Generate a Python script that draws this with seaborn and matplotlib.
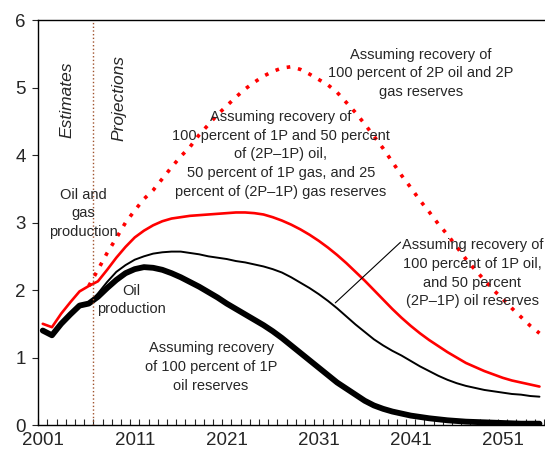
import numpy as np
import pandas as pd
import matplotlib.pyplot as plt
import seaborn as sns

sns.set_style("ticks")
plt.rcParams['font.family'] = ['Liberation Sans', 'DejaVu Sans']

years = list(range(2001, 2056))

# 100 percent of 1P oil reserves (thick black)
oil_1p = [1.40, 1.33, 1.50, 1.64, 1.77, 1.80, 1.90, 2.03, 2.15, 2.25,
          2.31, 2.34, 2.33, 2.30, 2.25, 2.19, 2.12, 2.05, 1.97, 1.89,
          1.80, 1.72, 1.64, 1.56, 1.48, 1.39, 1.29, 1.18, 1.07, 0.96,
          0.85, 0.74, 0.63, 0.54, 0.45, 0.36, 0.29, 0.24, 0.20, 0.17,
          0.14, 0.12, 0.10, 0.085, 0.07, 0.06, 0.05, 0.045, 0.04, 0.035,
          0.03, 0.025, 0.02, 0.02, 0.02]

# 100 percent of 1P oil and 50 percent (2P-1P) oil (thin black)
oil_mid = [1.40, 1.33, 1.50, 1.64, 1.77, 1.80, 1.95, 2.12, 2.27, 2.37,
           2.45, 2.50, 2.54, 2.56, 2.57, 2.57, 2.55, 2.53, 2.50, 2.48,
           2.46, 2.43, 2.41, 2.38, 2.35, 2.31, 2.26, 2.19, 2.11, 2.03,
           1.94, 1.84, 1.73, 1.61, 1.49, 1.38, 1.27, 1.18, 1.10, 1.03,
           0.95, 0.87, 0.80, 0.73, 0.67, 0.62, 0.58, 0.55, 0.52, 0.50,
           0.48, 0.46, 0.45, 0.43, 0.42]

# oil and gas, mixed recovery (red solid)
og_mid = [1.50, 1.45, 1.65, 1.82, 1.98, 2.06, 2.13, 2.30, 2.48, 2.64,
          2.78, 2.88, 2.96, 3.02, 3.06, 3.08, 3.10, 3.11, 3.12, 3.13,
          3.14, 3.15, 3.15, 3.14, 3.12, 3.08, 3.03, 2.97, 2.90, 2.82,
          2.73, 2.63, 2.52, 2.40, 2.27, 2.14, 2.00, 1.86, 1.72, 1.59,
          1.47, 1.36, 1.26, 1.17, 1.08, 1.00, 0.92, 0.86, 0.80, 0.75,
          0.70, 0.66, 0.63, 0.60, 0.57]

# 100 percent of 2P oil and 2P gas (red dotted)
og_2p_years = list(range(2006, 2056))
og_2p = [2.06, 2.30, 2.55, 2.77, 3.00, 3.18, 3.35, 3.48, 3.65, 3.82,
         3.98, 4.12, 4.30, 4.45, 4.60, 4.73, 4.86, 4.98, 5.08, 5.17,
         5.24, 5.29, 5.31, 5.27, 5.20, 5.12, 5.04, 4.93, 4.78, 4.63,
         4.46, 4.28, 4.10, 3.90, 3.70, 3.52, 3.33, 3.16, 2.98, 2.82,
         2.64, 2.46, 2.30, 2.15, 2.00, 1.87, 1.73, 1.60, 1.47, 1.36]

x_labels = [2001, 2011, 2021, 2031, 2041, 2051]

fig = plt.figure(figsize=(5.45, 4.58), dpi=100)
ax = fig.add_axes([0.07, 0.072, 0.93, 0.884])

df = pd.DataFrame({"year": years, "oil_1p": oil_1p, "oil_mid": oil_mid, "og_mid": og_mid})
df4 = pd.DataFrame({"year": og_2p_years, "value": og_2p})

sns.lineplot(data=df4, x="year", y="value", ax=ax, color="red", lw=2.6,
             linestyle=(0, (1.0, 2.2)), legend=False)
sns.lineplot(data=df, x="year", y="og_mid", ax=ax, color="red", lw=1.9, legend=False)
sns.lineplot(data=df, x="year", y="oil_mid", ax=ax, color="black", lw=1.4, legend=False)
sns.lineplot(data=df, x="year", y="oil_1p", ax=ax, color="black", lw=4.2, legend=False)

ax.axvline(2006.5, color="#a0522d", ls=":", lw=1.0)

ax.set_xlim(2000.5, 2055.6)
ax.set_ylim(0, 6)
ax.set_xlabel("")
ax.set_ylabel("")
ax.set_xticks(x_labels)
ax.set_xticklabels([str(v) for v in x_labels], fontsize=13.5)
ax.set_xticks(np.arange(2000.5, 2056, 1), minor=True)
ax.tick_params(axis="x", which="major", length=0, pad=5)
ax.tick_params(axis="x", which="minor", direction="in", length=4, width=0.8)
ax.set_yticks(range(0, 7))
ax.tick_params(axis="y", direction="out", length=4, labelsize=13.5, pad=5)
ax.spines["right"].set_visible(False)
for s in ["left", "bottom", "top"]:
    ax.spines[s].set_color("black")
    ax.spines[s].set_linewidth(1.0)

fs = 10.5
ls = 1.42
ax.text(2003.6, 4.82, "Estimates", rotation=90, style="italic", fontsize=12.5,
        ha="center", va="center")
ax.text(2009.3, 4.84, "Projections", rotation=90, style="italic", fontsize=12.5,
        ha="center", va="center")
ax.text(2005.4, 3.14, "Oil and\ngas\nproduction", fontsize=fs, ha="center",
        va="center", linespacing=ls)
ax.text(2010.6, 1.85, "Oil\nproduction", fontsize=fs, ha="center", va="center",
        linespacing=ls)
ax.text(2019.3, 0.86, "Assuming recovery\nof 100 percent of 1P\noil reserves",
        fontsize=fs, ha="center", va="center", linespacing=ls)
ax.text(2026.9, 4.01, "Assuming recovery of\n100 percent of 1P and 50 percent\n"
        "of (2P\u20131P) oil,\n50 percent of 1P gas, and 25\n"
        "percent of (2P\u20131P) gas reserves",
        fontsize=fs, ha="center", va="center", linespacing=ls)
ax.text(2042.1, 5.21, "Assuming recovery of\n100 percent of 2P oil and 2P\ngas reserves",
        fontsize=fs, ha="center", va="center", linespacing=ls)
ax.text(2047.7, 2.25, "Assuming recovery of\n100 percent of 1P oil,\nand 50 percent\n"
        "(2P\u20131P) oil reserves", fontsize=fs, ha="center", va="center",
        linespacing=ls)
ax.plot([2032.8, 2039.9], [1.81, 2.71], color="black", lw=0.8)

fig.savefig("out.png", dpi=100)
